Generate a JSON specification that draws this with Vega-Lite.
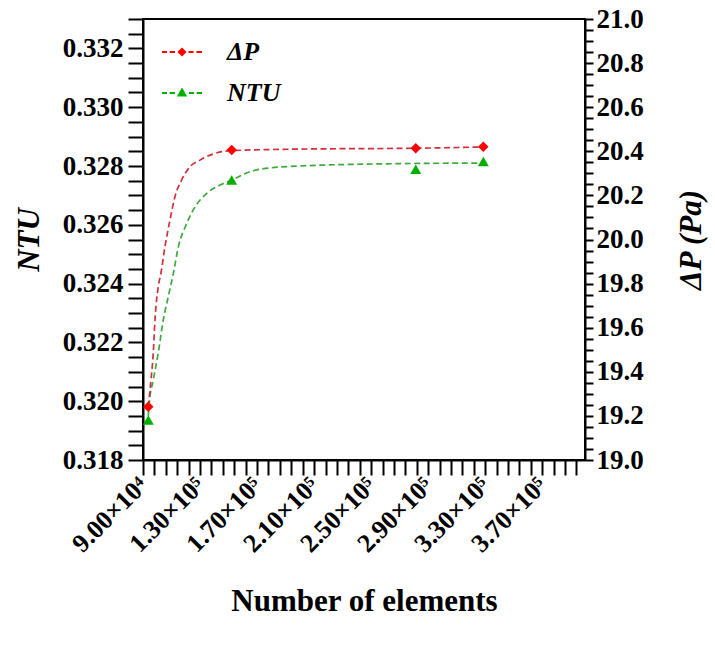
{
  "$schema": "https://vega.github.io/schema/vega-lite/v6.json",
  "width": 442,
  "height": 441,
  "autosize": {"type": "none"},
  "padding": {"left": 143, "top": 19, "right": 130, "bottom": 185},
  "background": "white",
  "datasets": {
    "points": [
      {"elements": 93700, "NTU": 0.31936, "dP": 19.242},
      {"elements": 152200, "NTU": 0.32752, "dP": 20.406},
      {"elements": 281300, "NTU": 0.32789, "dP": 20.414},
      {"elements": 328700, "NTU": 0.32815, "dP": 20.421}
    ],
    "fitDP": [
      {"elements": 93700, "dP": 19.242},
      {"elements": 95600, "dP": 19.363},
      {"elements": 97200, "dP": 19.485},
      {"elements": 98400, "dP": 19.635},
      {"elements": 100700, "dP": 19.786},
      {"elements": 102600, "dP": 19.848},
      {"elements": 105400, "dP": 19.967},
      {"elements": 108900, "dP": 20.088},
      {"elements": 112400, "dP": 20.194},
      {"elements": 117100, "dP": 20.27},
      {"elements": 123000, "dP": 20.33},
      {"elements": 130000, "dP": 20.36},
      {"elements": 139300, "dP": 20.388},
      {"elements": 152200, "dP": 20.403},
      {"elements": 200000, "dP": 20.41},
      {"elements": 281300, "dP": 20.414},
      {"elements": 331300, "dP": 20.42}
    ],
    "fitNTU": [
      {"elements": 93700, "NTU": 0.3195},
      {"elements": 94400, "NTU": 0.31994},
      {"elements": 97200, "NTU": 0.32072},
      {"elements": 100700, "NTU": 0.32164},
      {"elements": 104200, "NTU": 0.32276},
      {"elements": 107700, "NTU": 0.32355},
      {"elements": 111300, "NTU": 0.32435},
      {"elements": 114800, "NTU": 0.32525},
      {"elements": 120700, "NTU": 0.32605},
      {"elements": 126500, "NTU": 0.32661},
      {"elements": 134700, "NTU": 0.32707},
      {"elements": 144000, "NTU": 0.32735},
      {"elements": 152200, "NTU": 0.32752},
      {"elements": 165100, "NTU": 0.32781},
      {"elements": 172100, "NTU": 0.32789},
      {"elements": 200100, "NTU": 0.328},
      {"elements": 270300, "NTU": 0.32808},
      {"elements": 331300, "NTU": 0.3281}
    ]
  },
  "layer": [
    {
      "layer": [
        {
          "data": {"name": "fitNTU"},
          "mark": {"type": "line", "interpolate": "monotone", "color": "#3DA83D", "strokeWidth": 1.7, "strokeDash": [6, 3.5]},
          "encoding": {
            "x": {
              "field": "elements", "type": "quantitative",
              "scale": {"domain": [90000, 400000], "nice": false, "zero": false},
              "axis": {
                "title": "Number of elements",
                "titlePadding": 30,
                "tickCount": 200,
                "values": [90000, 98000, 106000, 114000, 122000, 130000, 138000, 146000, 154000, 162000, 170000, 178000, 186000, 194000, 202000, 210000, 218000, 226000, 234000, 242000, 250000, 258000, 266000, 274000, 282000, 290000, 298000, 306000, 314000, 322000, 330000, 338000, 346000, 354000, 362000, 370000, 378000, 386000, 394000],
                "labelExpr": "datum.value == 90000 ? '9.00×10⁴' : ((datum.value - 90000) % 40000 == 0 ? format(datum.value / 100000, '.2f') + '×10⁵' : '')",
                "labelAngle": -45,
                "labelAlign": "right",
                "labelBaseline": "middle",
                "labelFont": "Liberation Serif",
                "labelFontWeight": "bold",
                "labelFontSize": 26,
                "labelPadding": 6,
                "labelOverlap": false,
                "labelFlush": false,
                "tickSize": 15
              }
            },
            "y": {
              "field": "NTU", "type": "quantitative",
              "scale": {"domain": [0.318, 0.333], "nice": false, "zero": false},
              "axis": {
                "orient": "left",
                "title": "NTU",
                "titleFontStyle": "italic",
                "titlePadding": 17,
                "tickCount": 200,
                "values": [0.318, 0.3185, 0.319, 0.3195, 0.32, 0.3205, 0.321, 0.3215, 0.322, 0.3225, 0.323, 0.3235, 0.324, 0.3245, 0.325, 0.3255, 0.326, 0.3265, 0.327, 0.3275, 0.328, 0.3285, 0.329, 0.3295, 0.33, 0.3305, 0.331, 0.3315, 0.332, 0.3325, 0.333],
                "labelExpr": "abs(datum.value * 500 - round(datum.value * 500)) < 1e-6 && datum.value < 0.3329 ? format(datum.value, '.3f') : ''",
                "labelFont": "Liberation Serif",
                "labelFontWeight": "bold",
                "labelFontSize": 27,
                "labelPadding": 5,
                "labelOverlap": false,
                "labelFlush": false,
                "tickSize": 15
              }
            }
          }
        },
        {
          "data": {"name": "points"},
          "mark": {"type": "point", "shape": "triangle-up", "filled": true, "size": 120, "opacity": 1},
          "encoding": {
            "x": {"field": "elements", "type": "quantitative"},
            "y": {"field": "NTU", "type": "quantitative"},
            "color": {
              "datum": "NTU", "type": "nominal",
              "scale": {"domain": ["NTU"], "range": ["#00B000"]},
              "legend": {
                "title": null,
                "orient": "none",
                "legendX": 18,
                "legendY": 53,
                "padding": 0,
                "symbolType": "M-1,-0.045L-0.75,-0.045L-0.75,0.045L-1,0.045ZM-0.62,-0.045L-0.35,-0.045L-0.35,0.045L-0.62,0.045ZM0.35,-0.045L0.6,-0.045L0.6,0.045L0.35,0.045ZM0.73,-0.045L1,-0.045L1,0.045L0.73,0.045ZM0,-0.27L0.26,0.17L-0.26,0.17Z",
                "symbolSize": 1600,
                "labelFont": "Liberation Serif",
                "labelFontSize": 26,
                "labelFontStyle": "italic",
                "labelFontWeight": "bold",
                "labelColor": "black",
                "labelOffset": 24
              }
            }
          }
        }
      ]
    },
    {
      "layer": [
        {
          "data": {"name": "fitDP"},
          "mark": {"type": "line", "interpolate": "monotone", "color": "#D0303A", "strokeWidth": 1.7, "strokeDash": [6, 3.5]},
          "encoding": {
            "x": {"field": "elements", "type": "quantitative"},
            "y": {
              "field": "dP", "type": "quantitative",
              "scale": {"domain": [19, 21], "nice": false, "zero": false},
              "axis": {
                "orient": "right",
                "title": "ΔP (Pa)",
                "titleFontStyle": "italic",
                "titleAngle": -90,
                "titlePadding": 64,
                "tickCount": 200,
                "values": [19, 19.05, 19.1, 19.15, 19.2, 19.25, 19.3, 19.35, 19.4, 19.45, 19.5, 19.55, 19.6, 19.65, 19.7, 19.75, 19.8, 19.85, 19.9, 19.95, 20, 20.05, 20.1, 20.15, 20.2, 20.25, 20.3, 20.35, 20.4, 20.45, 20.5, 20.55, 20.6, 20.65, 20.7, 20.75, 20.8, 20.85, 20.9, 20.95, 21],
                "labelExpr": "abs(datum.value * 5 - round(datum.value * 5)) < 1e-6 ? format(datum.value, '.1f') : ''",
                "labelFont": "Liberation Serif",
                "labelFontWeight": "bold",
                "labelFontSize": 27,
                "labelPadding": 3,
                "labelOverlap": false,
                "labelFlush": false,
                "tickSize": 8
              }
            }
          }
        },
        {
          "data": {"name": "points"},
          "mark": {"type": "point", "shape": "diamond", "filled": true, "size": 110, "opacity": 1},
          "encoding": {
            "x": {"field": "elements", "type": "quantitative"},
            "y": {"field": "dP", "type": "quantitative"},
            "color": {
              "datum": "ΔP", "type": "nominal",
              "scale": {"domain": ["ΔP"], "range": ["#FF0000"]},
              "legend": {
                "title": null,
                "orient": "none",
                "legendX": 18,
                "legendY": 12,
                "padding": 0,
                "symbolType": "M-1,-0.045L-0.75,-0.045L-0.75,0.045L-1,0.045ZM-0.62,-0.045L-0.35,-0.045L-0.35,0.045L-0.62,0.045ZM0.33,-0.045L0.58,-0.045L0.58,0.045L0.33,0.045ZM0.72,-0.045L1,-0.045L1,0.045L0.72,0.045ZM0,-0.23L0.23,0L0,0.23L-0.23,0Z",
                "symbolSize": 1600,
                "labelFont": "Liberation Serif",
                "labelFontSize": 26,
                "labelFontStyle": "italic",
                "labelFontWeight": "bold",
                "labelColor": "black",
                "labelOffset": 24
              }
            }
          }
        }
      ]
    }
  ],
  "resolve": {
    "scale": {"y": "independent", "color": "independent"},
    "legend": {"color": "independent"}
  },
  "config": {
    "view": {"stroke": "black", "strokeWidth": 2},
    "axis": {
      "grid": false,
      "domainColor": "black",
      "domainWidth": 2,
      "tickColor": "black",
      "tickWidth": 2,
      "labelColor": "black",
      "titleColor": "black",
      "labelFont": "Liberation Serif",
      "titleFont": "Liberation Serif",
      "labelFontWeight": "bold",
      "titleFontWeight": "bold",
      "titleFontSize": 31
    }
  }
}
